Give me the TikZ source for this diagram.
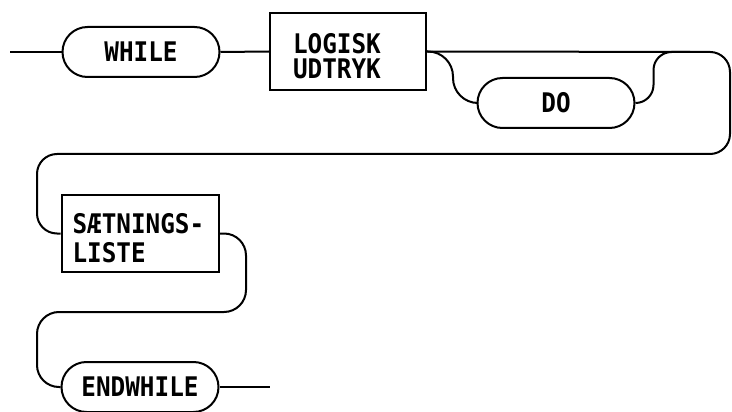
\documentclass[tikz,border=0pt]{standalone}
\usepackage{fontspec}
\newfontfamily\diafont[FakeStretch=0.9]{DejaVu Sans Mono}
\begin{document}
\begin{tikzpicture}[x=1pt,y=-1pt,line width=2pt,
  every node/.style={font=\diafont\bfseries\fontsize{27}{25}\selectfont},
  pill/.style={draw,rounded corners=25pt,minimum width=157pt,minimum height=50pt,inner sep=0pt},
  stmtbox/.style={draw,minimum width=156pt,minimum height=77pt,align=left,inner ysep=2pt}]
\useasboundingbox (0,0) rectangle (732,412);
\node[pill] (while) at (141,52) {WHILE};
\node[stmtbox,inner xsep=23pt,text width=110pt] (logisk) at (348,51.5) {\rule{0pt}{30pt}LOGISK\\UDTRYK};
\node[pill] (do) at (556,103) {DO};
\node[stmtbox,inner xsep=11pt,text width=135pt,font=\diafont\bfseries\fontsize{27}{29}\selectfont] (satn) at (140,233.5) {\rule{0pt}{30pt}SÆTNINGS-\\LISTE};
\node[pill] (endw) at (140,387) {ENDWHILE};
\coordinate (in) at (10,52);
\coordinate (out) at (270,387);
\coordinate (merge) at (690,52);
\draw (in) -- (while.west);
\draw (while.east) -- (logisk.west);
\draw[rounded corners=20pt] (logisk.east) -- (730,52) -- (730,154) -- (37,154) -- (37,233.5) -- (satn.west);
\draw[rounded corners=25pt] (logisk.east) -- ++(26,0) |- (do.west);
\draw[rounded corners=18pt] (do.east) -- ++(18,0) |- (merge);
\draw[rounded corners=22pt] (satn.east) -- (246,233.5) -- (246,312) -- (37,312) |- (endw.west);
\draw (endw.east) -- (out);
\end{tikzpicture}
\end{document}
